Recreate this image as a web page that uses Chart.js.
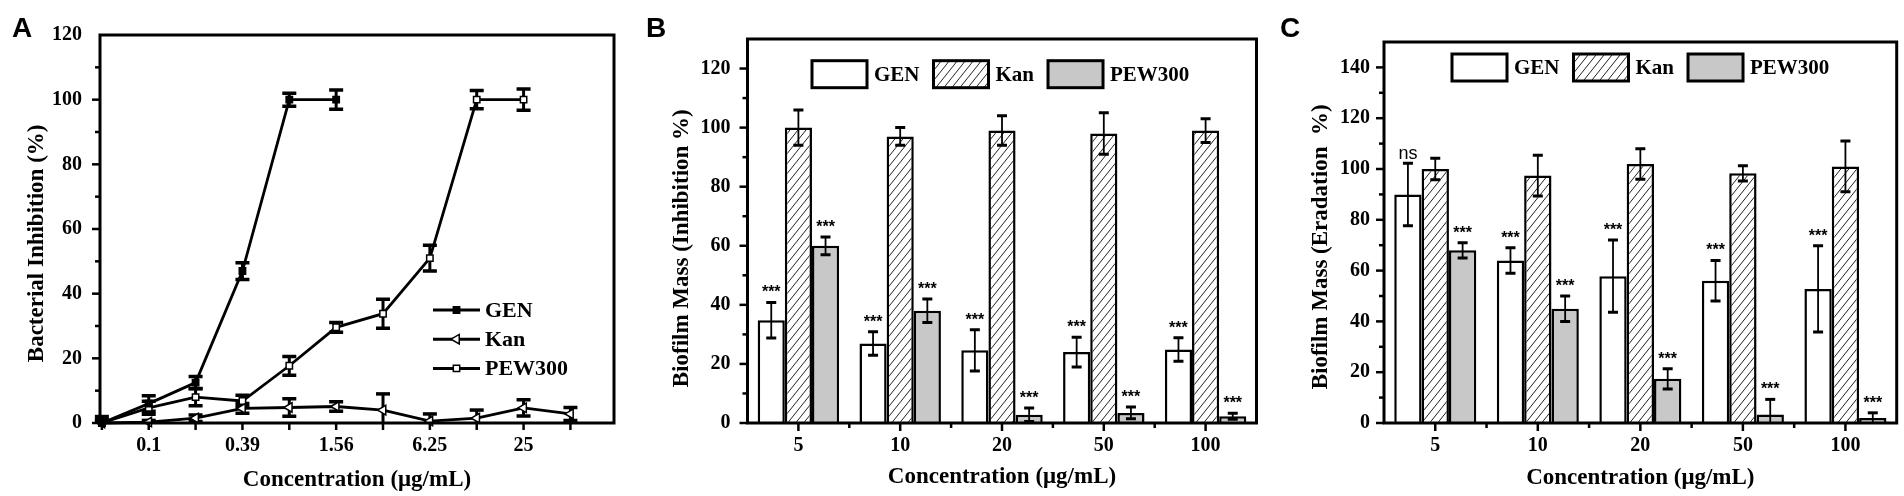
<!DOCTYPE html>
<html>
<head>
<meta charset="utf-8">
<script src="https://cdn.jsdelivr.net/npm/chart.js@4.4.1/dist/chart.umd.min.js"></script>
<style>
  body { margin: 0; background: #fff; width: 1904px; height: 496px; position: relative; overflow: hidden; }
  canvas { position: absolute; top: 0; }
</style>
</head>
<body>
<canvas id="chartA" width="630" height="496" style="left:0px"></canvas>
<canvas id="chartB" width="634" height="496" style="left:630px"></canvas>
<canvas id="chartC" width="640" height="496" style="left:1264px"></canvas>
<script>
// ---- panel A: bacterial inhibition ----
const concA = ["0.05", "0.1", "0.195", "0.39", "0.78", "1.56", "3.125", "6.25", "12.5", "25", "50"];
const xTickLabelsA = ["", "0.1", "", "0.39", "", "1.56", "", "6.25", "", "25", ""];
const yTicksA = [0, 20, 40, 60, 80, 100, 120];
const genA = [0, 6, 12.5, 47, 100, 100];
const genErrA = [2, 2.4, 1.9, 2.6, 2, 3];
const kanA = [0, 0.3, 1.5, 4.5, 4.8, 5.1, 4, 0.6, 1.5, 4.7, 2.8];
const kanErrA = [0.5, 0.5, 1, 1.5, 2.7, 1.5, 5, 2.2, 2.5, 2.5, 2];
const pewA = [0, 4.7, 8, 6.8, 17.7, 29.6, 33.8, 51, 100, 100];
const pewErrA = [1, 2, 2.7, 1.8, 2.9, 1.5, 4.5, 4, 2.8, 3.3];

// ---- panels B and C: biofilm mass ----
const concBC = ["5", "10", "20", "50", "100"];
const yTicksB = [0, 20, 40, 60, 80, 100, 120];
const genB = [34.8, 26.9, 24.6, 24, 24.9];
const genErrB = [6, 4, 7, 5, 4];
const kanB = [100, 97, 99, 98, 99];
const kanErrB = [6, 3, 5, 7, 4];
const pewB = [60, 38, 2.8, 3.4, 2.3];
const pewErrB = [3, 4, 2.3, 2, 1];
const genSigB = ["***", "***", "***", "***", "***"];
const pewSigB = ["***", "***", "***", "***", "***"];

const yTicksC = [0, 20, 40, 60, 80, 100, 120, 140];
const genC = [90, 64, 57.8, 56, 52.8];
const genErrC = [12.3, 5, 14.2, 8, 17];
const kanC = [100, 97.4, 102, 98.3, 101];
const kanErrC = [4.2, 8, 6, 3, 10];
const pewC = [68, 45, 17.4, 3.3, 2];
const pewErrC = [3, 5, 4, 6, 2];
const genSigC = ["ns", "***", "***", "***", "***"];
const pewSigC = ["***", "***", "***", "***", "***"];

const SERIF = "Liberation Serif";
const SANS = "Liberation Sans";
const GREY = "#c8c8c8";

Chart.defaults.font.family = SERIF;
Chart.defaults.color = "#000";

function hatchPattern() {
  const c = document.createElement("canvas");
  c.width = 8;
  c.height = 10;
  const g = c.getContext("2d");
  g.fillStyle = "#fff";
  g.fillRect(0, 0, 8, 10);
  g.strokeStyle = "#222";
  g.lineWidth = 1;
  g.beginPath();
  g.moveTo(0, 10); g.lineTo(8, 0);
  g.moveTo(-1, 1.25); g.lineTo(1, -1.25);
  g.moveTo(7, 11.25); g.lineTo(9, 8.75);
  g.stroke();
  return g.createPattern(c, "repeat");
}
const hatch = hatchPattern();

const valueOf = (d) => (typeof d === "object" ? d.y : d);

// frame box + outward tick marks (major and minor)
const framePlugin = {
  id: "frame",
  afterDraw(chart, args, opts) {
    const { ctx, chartArea: a } = chart;
    const x = chart.scales.x, y = chart.scales.y;
    ctx.save();
    ctx.strokeStyle = "#000";
    ctx.lineWidth = 2.5;
    for (let v = y.min; v <= y.max - 1; v += opts.yMinor) {
      const py = y.getPixelForValue(v);
      const len = v % (opts.yMinor * 2) === 0 ? 8 : 5;
      ctx.beginPath(); ctx.moveTo(a.left - len, py); ctx.lineTo(a.left, py); ctx.stroke();
    }
    const xs = [];
    if (opts.category) {
      const n = x.ticks.length;
      const w = (a.right - a.left) / n;
      for (let i = 0; i < n; i++) {
        xs.push([x.getPixelForTick(i), 8]);
        if (i > 0) xs.push([a.left + w * i, 5]);
      }
    } else {
      x.ticks.forEach((t) => xs.push([x.getPixelForValue(t.value), 7]));
    }
    xs.forEach(([px, len]) => {
      ctx.beginPath(); ctx.moveTo(px, a.bottom); ctx.lineTo(px, a.bottom + len); ctx.stroke();
    });
    ctx.lineWidth = 3;
    ctx.strokeRect(a.left, a.top, a.right - a.left, a.bottom - a.top);
    // panel letter
    ctx.fillStyle = "#000";
    ctx.font = "bold 28px " + SANS;
    ctx.textAlign = "left";
    ctx.textBaseline = "alphabetic";
    ctx.fillText(opts.letter, opts.letterX, 37);
    ctx.restore();
  },
};

function drawErrors(chart, opts) {
  const { ctx } = chart;
  const y = chart.scales.y;
  ctx.save();
  ctx.strokeStyle = "#000";
  chart.data.datasets.forEach((ds, i) => {
    if (!ds.errors) return;
    const meta = chart.getDatasetMeta(i);
    meta.data.forEach((el, j) => {
      const v = valueOf(ds.data[j]);
      const e = ds.errors[j];
      const top = y.getPixelForValue(v + e);
      const bot = y.getPixelForValue(Math.max(v - e, 0));
      ctx.lineWidth = opts.stem;
      ctx.beginPath(); ctx.moveTo(el.x, top); ctx.lineTo(el.x, bot); ctx.stroke();
      ctx.lineWidth = opts.capWidth;
      ctx.beginPath();
      ctx.moveTo(el.x - opts.cap, top); ctx.lineTo(el.x + opts.cap, top);
      if (v - e > 0) { ctx.moveTo(el.x - opts.cap, bot); ctx.lineTo(el.x + opts.cap, bot); }
      ctx.stroke();
    });
  });
  ctx.restore();
}

const errorPlugin = {
  id: "errorBars",
  beforeDatasetsDraw(chart, args, opts) { if (opts.under) drawErrors(chart, opts); },
  afterDatasetsDraw(chart, args, opts) { if (!opts.under) drawErrors(chart, opts); },
};

// significance marks above the error bars
const sigPlugin = {
  id: "sigMarks",
  afterDatasetsDraw(chart) {
    const { ctx } = chart;
    const y = chart.scales.y;
    ctx.save();
    ctx.fillStyle = "#000";
    ctx.textAlign = "center";
    ctx.textBaseline = "alphabetic";
    chart.data.datasets.forEach((ds, i) => {
      if (!ds.sig) return;
      const meta = chart.getDatasetMeta(i);
      meta.data.forEach((el, j) => {
        const top = y.getPixelForValue(ds.data[j] + ds.errors[j]);
        const s = ds.sig[j];
        if (s === "ns") {
          ctx.font = "18px " + SANS;
          ctx.fillText(s, el.x, top - 4);
        } else {
          ctx.font = "bold 16px " + SANS;
          ctx.fillText(s, el.x, top - 5);
        }
      });
    });
    ctx.restore();
  },
};

// legend for the line panel: line with marker, then label
const lineLegendPlugin = {
  id: "lineLegend",
  afterDraw(chart, args, opts) {
    const { ctx, chartArea: a } = chart;
    ctx.save();
    chart.data.datasets.forEach((ds, i) => {
      const cy = a.top + opts.top + i * opts.rowGap;
      const x0 = a.left + opts.left, x1 = x0 + 47;
      ctx.strokeStyle = "#000";
      ctx.lineWidth = 3;
      ctx.beginPath(); ctx.moveTo(x0, cy); ctx.lineTo(x1, cy); ctx.stroke();
      ctx.fillStyle = ds.pointBackgroundColor;
      ctx.strokeStyle = ds.pointBorderColor;
      ctx.lineWidth = ds.pointBorderWidth;
      Chart.helpers.drawPoint(ctx, {
        pointStyle: ds.pointStyle, rotation: ds.pointRotation || 0,
        radius: ds.pointRadius, borderWidth: ds.pointBorderWidth,
      }, (x0 + x1) / 2, cy);
      ctx.fillStyle = "#000";
      ctx.font = "bold 22px " + SERIF;
      ctx.textAlign = "left";
      ctx.textBaseline = "middle";
      ctx.fillText(ds.label, x1 + 5, cy + 1);
    });
    ctx.restore();
  },
};

// legend for the bar panels: framed swatch, then label
const boxLegendPlugin = {
  id: "boxLegend",
  afterDraw(chart, args, opts) {
    const { ctx, chartArea: a } = chart;
    ctx.save();
    ctx.font = "bold 21px " + SERIF;
    ctx.textAlign = "left";
    ctx.textBaseline = "middle";
    let x = a.left + opts.left;
    const top = a.top + opts.top;
    chart.data.datasets.forEach((ds) => {
      ctx.fillStyle = ds.backgroundColor;
      ctx.fillRect(x, top, 55, 27);
      ctx.strokeStyle = "#000";
      ctx.lineWidth = 3;
      ctx.strokeRect(x, top, 55, 27);
      ctx.fillStyle = "#000";
      ctx.fillText(ds.label, x + 62, top + 15);
      x += 62 + ctx.measureText(ds.label).width + 14;
    });
    ctx.restore();
  },
};

const tickFont = { family: SERIF, size: 20, weight: "bold" };
const titleFont = { family: SERIF, size: 23, weight: "bold" };
const pad = (n) => "\u00a0".repeat(n);

function baseScales(cfg) {
  return {
    x: {
      grid: { display: false, drawTicks: false },
      border: { display: false },
      ticks: { font: tickFont, padding: 11, maxRotation: 0, autoSkip: false },
      title: { display: true, text: "Concentration (\u03bcg/mL)", font: titleFont, padding: { top: 0, bottom: cfg.xTitlePad } },
      afterFit: (s) => { s.height = 73; },
    },
    y: {
      min: 0,
      max: cfg.yMax,
      grid: { display: false, drawTicks: false },
      border: { display: false },
      ticks: { font: tickFont, padding: cfg.yTickPad },
      afterBuildTicks: (s) => { s.ticks = cfg.yTicks.map((v) => ({ value: v })); },
      title: { display: true, text: cfg.yTitle, font: titleFont, padding: { top: cfg.yTitlePad, bottom: 0 } },
      afterFit: (s) => { s.width = cfg.yWidth; },
    },
  };
}

// ---- chart A ----
const scalesA = baseScales({
  yMax: 120, yTicks: yTicksA, yTickPad: 18, yWidth: 100, yTitlePad: 23, xTitlePad: 2,
  yTitle: "Bacterial Inhibition (%)" + pad(5),
});
scalesA.x.type = "linear";
scalesA.x.min = -0.04;
scalesA.x.max = 10.93;
scalesA.x.afterBuildTicks = (s) => { s.ticks = concA.map((c, i) => ({ value: i })); };
scalesA.x.ticks.callback = (v) => xTickLabelsA[v];

const toPoints = (arr) => arr.map((v, i) => ({ x: i, y: v }));
const lineStyle = { borderColor: "#000", borderWidth: 2.8, tension: 0, clip: false, pointBorderColor: "#000", pointBorderWidth: 1.5 };

new Chart(document.getElementById("chartA"), {
  type: "line",
  data: {
    datasets: [
      { ...lineStyle, label: "GEN", data: toPoints(genA), errors: genErrA, pointStyle: "rect", pointRadius: 4.5, pointBackgroundColor: "#000" },
      { ...lineStyle, label: "Kan", data: toPoints(kanA), errors: kanErrA, pointStyle: "triangle", pointRotation: -90, pointRadius: 5.5, pointBackgroundColor: "#fff" },
      { ...lineStyle, label: "PEW300", data: toPoints(pewA), errors: pewErrA, pointStyle: "rect", pointRadius: 4.5, pointBackgroundColor: "#fff" },
    ],
  },
  options: {
    responsive: false,
    animation: false,
    devicePixelRatio: 1,
    layout: { padding: { left: 0, top: 35, right: 16, bottom: 0 } },
    scales: scalesA,
    plugins: {
      legend: { display: false },
      tooltip: { enabled: false },
      frame: { yMinor: 10, category: false, letter: "A", letterX: 12 },
      errorBars: { under: true, stem: 3, cap: 7, capWidth: 3.5 },
      lineLegend: { left: 333, top: 275, rowGap: 29.2 },
    },
  },
  plugins: [framePlugin, errorPlugin, lineLegendPlugin],
});

// ---- charts B and C ----
function barChart(id, cfg) {
  const barStyle = { borderColor: "#000", borderWidth: 2.5, barPercentage: 1, categoryPercentage: 0.8 };
  return new Chart(document.getElementById(id), {
    type: "bar",
    data: {
      labels: concBC,
      datasets: [
        { ...barStyle, label: "GEN", data: cfg.gen, errors: cfg.genErr, sig: cfg.genSig, backgroundColor: "#fff" },
        { ...barStyle, label: "Kan", data: cfg.kan, errors: cfg.kanErr, backgroundColor: hatch },
        { ...barStyle, label: "PEW300", data: cfg.pew, errors: cfg.pewErr, sig: cfg.pewSig, backgroundColor: GREY },
      ],
    },
    options: {
      responsive: false,
      animation: false,
      devicePixelRatio: 1,
      layout: { padding: { left: 0, top: cfg.top, right: cfg.right, bottom: 0 } },
      scales: baseScales(cfg),
      plugins: {
        legend: { display: false },
        tooltip: { enabled: false },
        frame: { yMinor: 10, category: true, letter: cfg.letter, letterX: 16 },
        errorBars: { under: false, stem: 1.8, cap: 5, capWidth: 3 },
        boxLegend: { left: cfg.legendLeft, top: cfg.legendTop },
      },
    },
    plugins: [framePlugin, errorPlugin, sigPlugin, boxLegendPlugin],
  });
}

barChart("chartB", {
  letter: "B", gen: genB, genErr: genErrB, kan: kanB, kanErr: kanErrB, pew: pewB, pewErr: pewErrB,
  genSig: genSigB, pewSig: pewSigB,
  yMax: 130, yTicks: yTicksB, yTickPad: 17, yWidth: 117.5, yTitlePad: 38, xTitlePad: 5.5,
  yTitle: "Biofilm Mass (Inhibition %)" + pad(6),
  top: 39, right: 7.5, legendLeft: 64.5, legendTop: 21.7,
});

barChart("chartC", {
  letter: "C", gen: genC, genErr: genErrC, kan: kanC, kanErr: kanErrC, pew: pewC, pewErr: pewErrC,
  genSig: genSigC, pewSig: pewSigC,
  yMax: 150, yTicks: yTicksC, yTickPad: 14, yWidth: 120, yTitlePad: 43, xTitlePad: 4,
  yTitle: "Biofilm Mass (Eradation  %)" + pad(5),
  top: 42, right: 7.3, legendLeft: 68, legendTop: 12,
});
</script>
</body>
</html>
